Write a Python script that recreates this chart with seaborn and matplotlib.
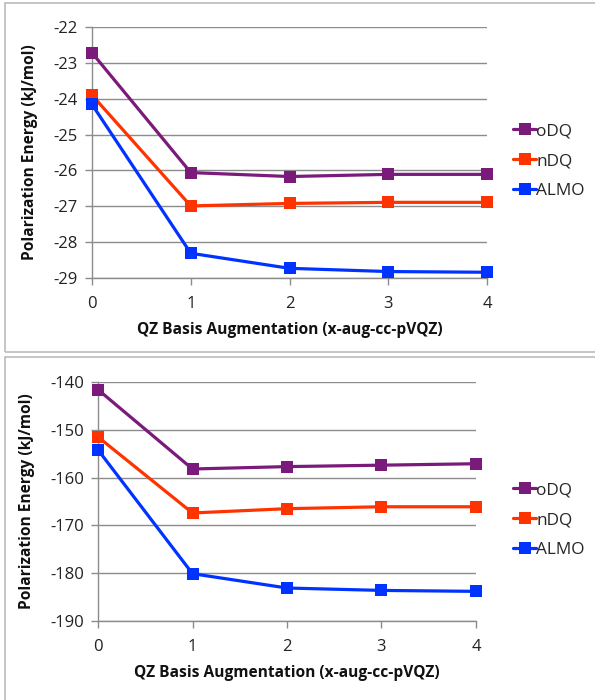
import matplotlib
matplotlib.use("Agg")
import matplotlib.pyplot as plt
import seaborn as sns
import pandas as pd
from matplotlib.patches import Rectangle

augmentation = [0, 1, 2, 3, 4]
methods = ["oDQ", "nDQ", "ALMO"]
top_odq = [-22.72, -26.06, -26.17, -26.11, -26.11]
top_ndq = [-23.90, -26.99, -26.92, -26.89, -26.89]
top_almo = [-24.16, -28.31, -28.73, -28.82, -28.84]
bot_odq = [-141.6, -158.2, -157.7, -157.4, -157.1]
bot_ndq = [-151.5, -167.4, -166.5, -166.1, -166.1]
bot_almo = [-154.2, -180.1, -183.1, -183.6, -183.8]
top_yticks = [-22, -23, -24, -25, -26, -27, -28, -29]
bot_yticks = [-140, -150, -160, -170, -180, -190]
xlabel = "QZ Basis Augmentation (x-aug-cc-pVQZ)"
ylabel = "Polarization Energy (kJ/mol)"
colors = {"oDQ": "#7A1A7A", "nDQ": "#FF3300", "ALMO": "#0033FF"}

sns.set_theme(style="white")
plt.rcParams["font.family"] = ["Open Sans", "DejaVu Sans"]

W, H = 595, 700
fig = plt.figure(figsize=(W / 100, H / 100), dpi=100)


def px_axes(x0, y0, x1, y1):
    return fig.add_axes([x0 / W, 1 - y1 / H, (x1 - x0) / W, (y1 - y0) / H])


# panel borders
for (x0, y0, x1, y1) in [(5, 3, 601, 352), (5, 357, 601, 712)]:
    fig.patches.append(Rectangle((x0 / W, 1 - y1 / H), (x1 - x0) / W, (y1 - y0) / H,
                                 transform=fig.transFigure, fill=False,
                                 edgecolor="#BBBBBB", linewidth=1.2))


def make_long(o, n, a):
    rows = []
    for m, vals in zip(methods, [o, n, a]):
        for x, v in zip(augmentation, vals):
            rows.append({"aug": x, "energy": v, "method": m})
    return pd.DataFrame(rows)


panels = [
    (px_axes(92, 27, 487, 278), make_long(top_odq, top_ndq, top_almo), top_yticks, (-29, -22), 161),
    (px_axes(98, 382, 476, 621), make_long(bot_odq, bot_ndq, bot_almo), bot_yticks, (-190, -140), 520),
]

for ax, df, yt, ylim, legy in panels:
    sns.lineplot(data=df, x="aug", y="energy", hue="method", hue_order=methods,
                 palette=colors, marker="s", markersize=9, markeredgewidth=0,
                 linewidth=2.3, legend=False, ax=ax)
    for ln in ax.lines:
        ln.set_clip_on(False)
        ln.set_zorder(5)
    ax.set_xlim(0, 4)
    ax.set_ylim(*ylim)
    ax.set_xticks(augmentation)
    ax.set_yticks(yt)
    ax.set_yticklabels([str(v) for v in yt])
    ax.grid(axis="y", color="#8C8C8C", linewidth=1.0)
    ax.grid(axis="x", visible=False)
    for s in ["top", "right"]:
        ax.spines[s].set_visible(False)
    for s in ["left", "bottom"]:
        ax.spines[s].set_color("#8C8C8C")
        ax.spines[s].set_linewidth(1.0)
    ax.tick_params(axis="both", which="both", length=5, width=1.0, color="#8C8C8C",
                   labelsize=12, labelcolor="#222222", direction="out", bottom=True, left=True)
    ax.tick_params(axis="y", pad=5)
    ax.tick_params(axis="x", pad=8)
    ax.set_xlabel(xlabel, fontsize=11.2, fontweight="bold", color="#111111", labelpad=7)
    ax.set_ylabel(ylabel, fontsize=11.2, fontweight="bold", color="#111111", labelpad=11)
    handles = ax.lines[:3]
    leg = ax.legend(handles, methods, loc="center left",
                    bbox_to_anchor=(513 / W, 1 - legy / H),
                    bbox_transform=fig.transFigure, frameon=False, fontsize=12.4,
                    handlelength=1.35, handletextpad=0.0, labelspacing=0.8,
                    borderaxespad=0, borderpad=0)
    for h in leg.legend_handles:
        h.set_markersize(8)
        h.set_linewidth(2.3)

fig.savefig("out.png", dpi=100)
